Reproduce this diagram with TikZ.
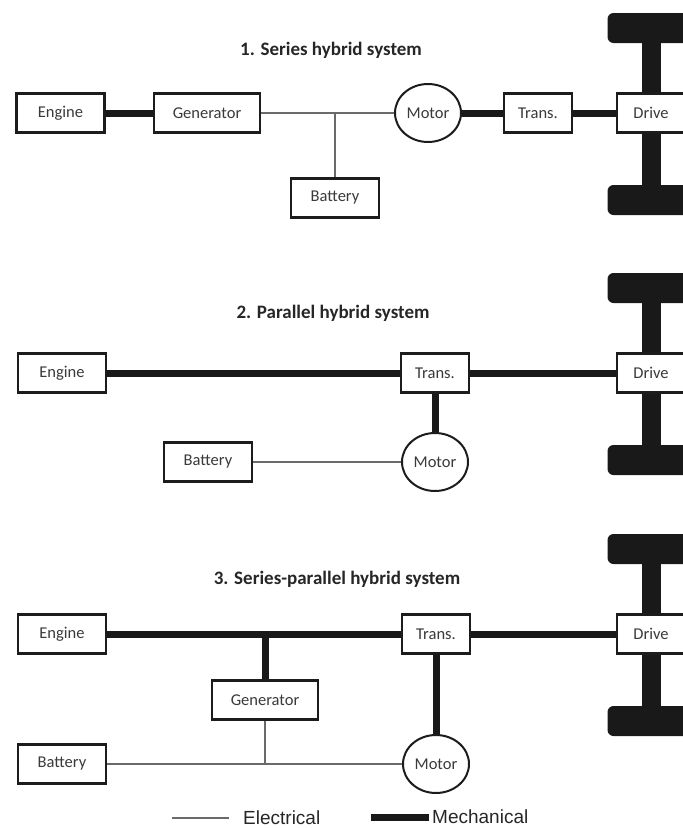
\documentclass[tikz,border=0pt]{standalone}
\usepackage{fontspec}
\setmainfont{Carlito}
\newfontfamily\legendfont{Liberation Sans}
\usetikzlibrary{positioning,shapes.geometric}

\definecolor{boxline}{HTML}{1C1C1C}
\definecolor{labeltext}{HTML}{3A3A3A}
\definecolor{elecline}{HTML}{6A6A6A}

\tikzstyle{block} = [
        draw=boxline, line width=2.6pt, fill=white, rectangle, minimum height=39pt,
        minimum width=88pt, inner sep=0pt, text=labeltext,
        font=\fontsize{16.5}{19}\selectfont
    ]
\tikzstyle{motor} = [
        draw=boxline, line width=2pt, fill=white, ellipse, minimum width=66pt,
        minimum height=58pt, inner sep=0pt, text=labeltext,
        font=\fontsize{16.5}{19}\selectfont
    ]
\tikzstyle{wheel} = [
        fill=black!90, rectangle, rounded corners=6pt, minimum width=87pt,
        minimum height=30pt, inner sep=0pt, outer sep=0pt
    ]
\tikzstyle{heading} = [font=\bfseries\fontsize{19}{22}\selectfont, text=black!85]
\tikzstyle{legendtext} = [
        font=\legendfont\fontsize{19}{22}\selectfont, anchor=west, inner sep=0pt,
        text=black!85
    ]
\tikzstyle{tmp} = [coordinate]
\tikzstyle{mech} = [line width=7pt, draw=black!90]
\tikzstyle{elec} = [line width=1.2pt, draw=elecline]
\tikzstyle{axle} = [line width=19pt, draw=black!90]

\begin{document}
\begin{tikzpicture}[x=1pt, y=-1pt]
        \useasboundingbox (0,0) rectangle (683,828);
        \clip (0,0) rectangle (683,828);

        \node [heading] (ttlA) at (331,50) {1. Series hybrid system};
        \node [block] (engA) at (60.5,113) {Engine};
        \node [block, right of=engA, node distance=146.5pt, minimum width=106pt] (genA) {Generator};
        \node [motor, right of=genA, node distance=221pt] (motA) {Motor};
        \node [block, right of=motA, node distance=110pt, minimum width=68pt] (trnA) {Trans.};
        \node [block, right of=trnA, node distance=113pt, minimum width=68pt] (drvA) {Drive};
        \node [tmp] (jA) at (335,113) {};
        \node [block, below of=jA, node distance=85pt] (batA) {Battery};
        \node [wheel, above of=drvA, node distance=85pt] (wtA) {};
        \node [wheel, below of=drvA, node distance=87pt] (wbA) {};
        \draw [mech] (engA) -- (genA);
        \draw [elec] (genA) -- (motA);
        \draw [elec] (jA) -- (batA);
        \draw [mech] (motA) -- (trnA);
        \draw [mech] (trnA) -- (drvA);
        \draw [axle] (wtA) -- (drvA);
        \draw [axle] (wbA) -- (drvA);

        \node [heading] (ttlB) at (333,313) {2. Parallel hybrid system};
        \node [block] (engB) at (62,373) {Engine};
        \node [block, right of=engB, node distance=373pt, minimum width=68pt] (trnB) {Trans.};
        \node [block, right of=trnB, node distance=216pt, minimum width=68pt] (drvB) {Drive};
        \node [motor, below of=trnB, node distance=89pt] (motB) {Motor};
        \node [block, left of=motB, node distance=227pt] (batB) {Battery};
        \node [wheel, above of=drvB, node distance=85pt] (wtB) {};
        \node [wheel, below of=drvB, node distance=87pt] (wbB) {};
        \draw [mech] (engB) -- (trnB);
        \draw [mech] (trnB) -- (drvB);
        \draw [mech] (trnB) -- (motB);
        \draw [elec] (batB) -- (motB);
        \draw [axle] (wtB) -- (drvB);
        \draw [axle] (wbB) -- (drvB);

        \node [heading] (ttlC) at (337,579) {3. Series-parallel hybrid system};
        \node [block] (engC) at (62,634) {Engine};
        \node [block, right of=engC, node distance=374pt, minimum width=68pt] (trnC) {Trans.};
        \node [block, right of=trnC, node distance=215pt, minimum width=68pt] (drvC) {Drive};
        \node [tmp] (jC) at (265,634) {};
        \node [block, below of=jC, node distance=66pt, minimum width=106pt] (genC) {Generator};
        \node [tmp, below of=genC, node distance=64pt] (jD) {};
        \node [motor, below of=trnC, node distance=130pt] (motC) {Motor};
        \node [block, below of=engC, node distance=130pt] (batC) {Battery};
        \node [wheel, above of=drvC, node distance=85pt] (wtC) {};
        \node [wheel, below of=drvC, node distance=87pt] (wbC) {};
        \draw [mech] (engC) -- (trnC);
        \draw [mech] (trnC) -- (drvC);
        \draw [mech] (jC) -- (genC);
        \draw [mech] (trnC) -- (motC);
        \draw [elec] (batC) -- (motC);
        \draw [elec] (genC) -- (jD);
        \draw [axle] (wtC) -- (drvC);
        \draw [axle] (wbC) -- (drvC);

        \node [tmp] (leA) at (172,818) {};
        \node [tmp, right of=leA, node distance=57pt] (leB) {};
        \node [legendtext] (lgE) at (243,818) {Electrical};
        \node [tmp] (lmA) at (371,817) {};
        \node [tmp, right of=lmA, node distance=58pt] (lmB) {};
        \node [legendtext] (lgM) at (432,817) {Mechanical};
        \draw [elec] (leA) -- (leB);
        \draw [mech] (lmA) -- (lmB);
    \end{tikzpicture}
\end{document}
